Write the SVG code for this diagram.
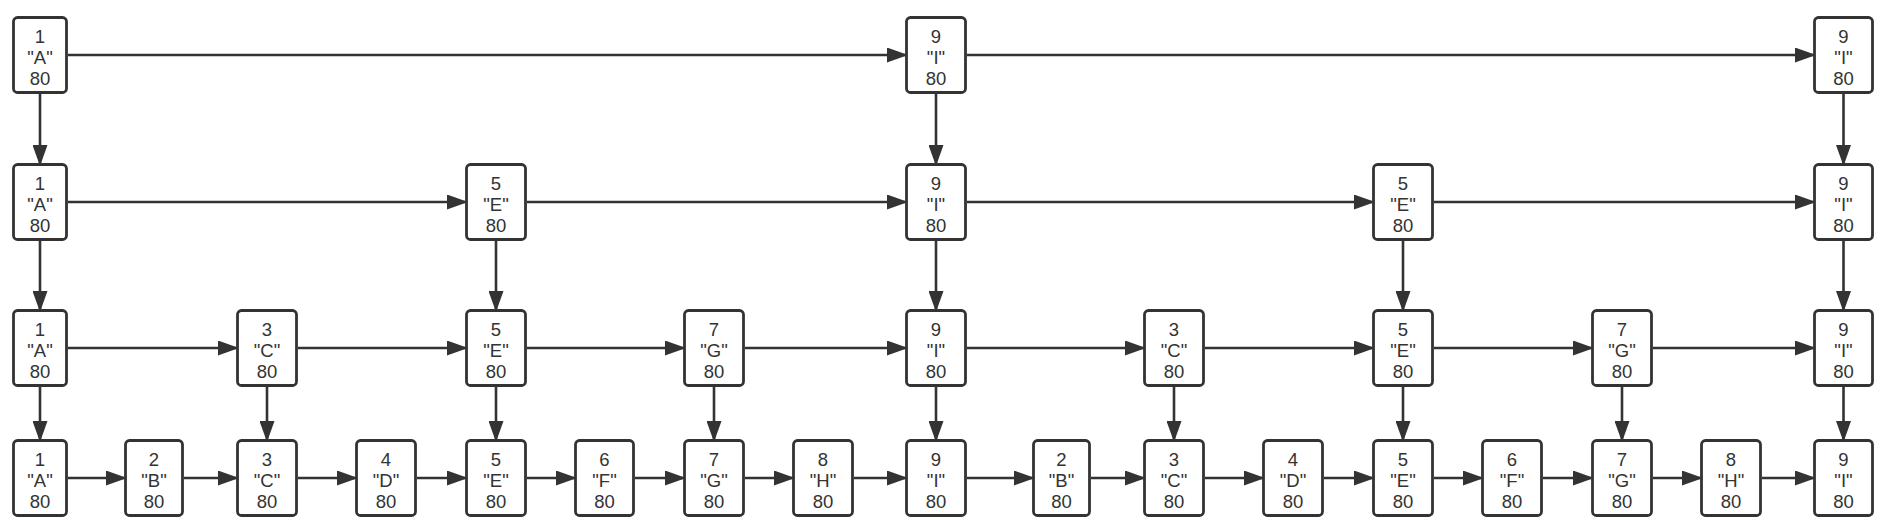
<svg xmlns="http://www.w3.org/2000/svg" width="1886" height="530" viewBox="0 0 1886 530">
<style>
.node rect{fill:#ffffff;stroke:#333333;stroke-width:2.8}
.node text{font-family:"Liberation Sans",Arial,sans-serif;font-size:18.5px;fill:#333333;text-anchor:middle}
.conn path{fill:none;stroke:#333333;stroke-width:2.6;marker-end:url(#arrow)}
</style>
<defs>
<marker id="arrow" markerUnits="userSpaceOnUse" markerWidth="21" markerHeight="15" refX="18" refY="7.5" orient="auto">
<path d="M0,0 L21,7.5 L0,15 Z" fill="#333333"/>
</marker>
</defs>
<rect width="1886" height="530" fill="#ffffff"/>
<g id="connectors" class="conn">
<path d="M68,55 H905"/>
<path d="M967,55 H1813"/>
<path d="M68,202 H465"/>
<path d="M527,202 H905"/>
<path d="M967,202 H1372"/>
<path d="M1434,202 H1813"/>
<path d="M68,348 H236"/>
<path d="M298,348 H465"/>
<path d="M527,348 H683"/>
<path d="M745,348 H905"/>
<path d="M967,348 H1143"/>
<path d="M1205,348 H1372"/>
<path d="M1434,348 H1591"/>
<path d="M1653,348 H1813"/>
<path d="M68,478 H124"/>
<path d="M184,478 H236"/>
<path d="M298,478 H355"/>
<path d="M417,478 H465"/>
<path d="M527,478 H574"/>
<path d="M635,478 H683"/>
<path d="M745,478 H792"/>
<path d="M854,478 H905"/>
<path d="M967,478 H1032"/>
<path d="M1091,478 H1143"/>
<path d="M1205,478 H1262"/>
<path d="M1324,478 H1372"/>
<path d="M1434,478 H1481"/>
<path d="M1543,478 H1591"/>
<path d="M1653,478 H1700"/>
<path d="M1762,478 H1813"/>
<path d="M40,94 V163"/>
<path d="M936,94 V163"/>
<path d="M1843.5,94 V163"/>
<path d="M40,241 V309"/>
<path d="M496,241 V309"/>
<path d="M936,241 V309"/>
<path d="M1403,241 V309"/>
<path d="M1843.5,241 V309"/>
<path d="M40,387 V439"/>
<path d="M267,387 V439"/>
<path d="M496,387 V439"/>
<path d="M714,387 V439"/>
<path d="M936,387 V439"/>
<path d="M1174,387 V439"/>
<path d="M1403,387 V439"/>
<path d="M1622,387 V439"/>
<path d="M1843.5,387 V439"/>
</g>

<g id="r1-1A" class="node"><rect x="13.5" y="17.5" width="53" height="75" rx="4"/><text x="40" y="42.5">1</text><text x="40" y="63.5">"A"</text><text x="40" y="84.5">80</text></g>
<g id="r1-9I" class="node"><rect x="906.5" y="17.5" width="59" height="75" rx="4"/><text x="936" y="42.5">9</text><text x="936" y="63.5">"I"</text><text x="936" y="84.5">80</text></g>
<g id="r1-9I-b" class="node"><rect x="1814.5" y="17.5" width="58" height="75" rx="4"/><text x="1843.5" y="42.5">9</text><text x="1843.5" y="63.5">"I"</text><text x="1843.5" y="84.5">80</text></g>

<g id="r2-1A" class="node"><rect x="13.5" y="164.5" width="53" height="75" rx="4"/><text x="40" y="189.5">1</text><text x="40" y="210.5">"A"</text><text x="40" y="231.5">80</text></g>
<g id="r2-5E" class="node"><rect x="466.5" y="164.5" width="59" height="75" rx="4"/><text x="496" y="189.5">5</text><text x="496" y="210.5">"E"</text><text x="496" y="231.5">80</text></g>
<g id="r2-9I" class="node"><rect x="906.5" y="164.5" width="59" height="75" rx="4"/><text x="936" y="189.5">9</text><text x="936" y="210.5">"I"</text><text x="936" y="231.5">80</text></g>
<g id="r2-5E-b" class="node"><rect x="1373.5" y="164.5" width="59" height="75" rx="4"/><text x="1403" y="189.5">5</text><text x="1403" y="210.5">"E"</text><text x="1403" y="231.5">80</text></g>
<g id="r2-9I-b" class="node"><rect x="1814.5" y="164.5" width="58" height="75" rx="4"/><text x="1843.5" y="189.5">9</text><text x="1843.5" y="210.5">"I"</text><text x="1843.5" y="231.5">80</text></g>

<g id="r3-1A" class="node"><rect x="13.5" y="310.5" width="53" height="75" rx="4"/><text x="40" y="335.5">1</text><text x="40" y="356.5">"A"</text><text x="40" y="377.5">80</text></g>
<g id="r3-3C" class="node"><rect x="237.5" y="310.5" width="59" height="75" rx="4"/><text x="267" y="335.5">3</text><text x="267" y="356.5">"C"</text><text x="267" y="377.5">80</text></g>
<g id="r3-5E" class="node"><rect x="466.5" y="310.5" width="59" height="75" rx="4"/><text x="496" y="335.5">5</text><text x="496" y="356.5">"E"</text><text x="496" y="377.5">80</text></g>
<g id="r3-7G" class="node"><rect x="684.5" y="310.5" width="59" height="75" rx="4"/><text x="714" y="335.5">7</text><text x="714" y="356.5">"G"</text><text x="714" y="377.5">80</text></g>
<g id="r3-9I" class="node"><rect x="906.5" y="310.5" width="59" height="75" rx="4"/><text x="936" y="335.5">9</text><text x="936" y="356.5">"I"</text><text x="936" y="377.5">80</text></g>
<g id="r3-3C-b" class="node"><rect x="1144.5" y="310.5" width="59" height="75" rx="4"/><text x="1174" y="335.5">3</text><text x="1174" y="356.5">"C"</text><text x="1174" y="377.5">80</text></g>
<g id="r3-5E-b" class="node"><rect x="1373.5" y="310.5" width="59" height="75" rx="4"/><text x="1403" y="335.5">5</text><text x="1403" y="356.5">"E"</text><text x="1403" y="377.5">80</text></g>
<g id="r3-7G-b" class="node"><rect x="1592.5" y="310.5" width="59" height="75" rx="4"/><text x="1622" y="335.5">7</text><text x="1622" y="356.5">"G"</text><text x="1622" y="377.5">80</text></g>
<g id="r3-9I-b" class="node"><rect x="1814.5" y="310.5" width="58" height="75" rx="4"/><text x="1843.5" y="335.5">9</text><text x="1843.5" y="356.5">"I"</text><text x="1843.5" y="377.5">80</text></g>

<g id="r4-1A" class="node"><rect x="13.5" y="440.5" width="53" height="75" rx="4"/><text x="40" y="465.5">1</text><text x="40" y="486.5">"A"</text><text x="40" y="507.5">80</text></g>
<g id="r4-2B" class="node"><rect x="125.5" y="440.5" width="57" height="75" rx="4"/><text x="154" y="465.5">2</text><text x="154" y="486.5">"B"</text><text x="154" y="507.5">80</text></g>
<g id="r4-3C" class="node"><rect x="237.5" y="440.5" width="59" height="75" rx="4"/><text x="267" y="465.5">3</text><text x="267" y="486.5">"C"</text><text x="267" y="507.5">80</text></g>
<g id="r4-4D" class="node"><rect x="356.5" y="440.5" width="59" height="75" rx="4"/><text x="386" y="465.5">4</text><text x="386" y="486.5">"D"</text><text x="386" y="507.5">80</text></g>
<g id="r4-5E" class="node"><rect x="466.5" y="440.5" width="59" height="75" rx="4"/><text x="496" y="465.5">5</text><text x="496" y="486.5">"E"</text><text x="496" y="507.5">80</text></g>
<g id="r4-6F" class="node"><rect x="575.5" y="440.5" width="58" height="75" rx="4"/><text x="604.5" y="465.5">6</text><text x="604.5" y="486.5">"F"</text><text x="604.5" y="507.5">80</text></g>
<g id="r4-7G" class="node"><rect x="684.5" y="440.5" width="59" height="75" rx="4"/><text x="714" y="465.5">7</text><text x="714" y="486.5">"G"</text><text x="714" y="507.5">80</text></g>
<g id="r4-8H" class="node"><rect x="793.5" y="440.5" width="59" height="75" rx="4"/><text x="823" y="465.5">8</text><text x="823" y="486.5">"H"</text><text x="823" y="507.5">80</text></g>
<g id="r4-9I" class="node"><rect x="906.5" y="440.5" width="59" height="75" rx="4"/><text x="936" y="465.5">9</text><text x="936" y="486.5">"I"</text><text x="936" y="507.5">80</text></g>
<g id="r4-2B-b" class="node"><rect x="1033.5" y="440.5" width="56" height="75" rx="4"/><text x="1061.5" y="465.5">2</text><text x="1061.5" y="486.5">"B"</text><text x="1061.5" y="507.5">80</text></g>
<g id="r4-3C-b" class="node"><rect x="1144.5" y="440.5" width="59" height="75" rx="4"/><text x="1174" y="465.5">3</text><text x="1174" y="486.5">"C"</text><text x="1174" y="507.5">80</text></g>
<g id="r4-4D-b" class="node"><rect x="1263.5" y="440.5" width="59" height="75" rx="4"/><text x="1293" y="465.5">4</text><text x="1293" y="486.5">"D"</text><text x="1293" y="507.5">80</text></g>
<g id="r4-5E-b" class="node"><rect x="1373.5" y="440.5" width="59" height="75" rx="4"/><text x="1403" y="465.5">5</text><text x="1403" y="486.5">"E"</text><text x="1403" y="507.5">80</text></g>
<g id="r4-6F-b" class="node"><rect x="1482.5" y="440.5" width="59" height="75" rx="4"/><text x="1512" y="465.5">6</text><text x="1512" y="486.5">"F"</text><text x="1512" y="507.5">80</text></g>
<g id="r4-7G-b" class="node"><rect x="1592.5" y="440.5" width="59" height="75" rx="4"/><text x="1622" y="465.5">7</text><text x="1622" y="486.5">"G"</text><text x="1622" y="507.5">80</text></g>
<g id="r4-8H-b" class="node"><rect x="1701.5" y="440.5" width="59" height="75" rx="4"/><text x="1731" y="465.5">8</text><text x="1731" y="486.5">"H"</text><text x="1731" y="507.5">80</text></g>
<g id="r4-9I-b" class="node"><rect x="1814.5" y="440.5" width="58" height="75" rx="4"/><text x="1843.5" y="465.5">9</text><text x="1843.5" y="486.5">"I"</text><text x="1843.5" y="507.5">80</text></g>
</svg>
